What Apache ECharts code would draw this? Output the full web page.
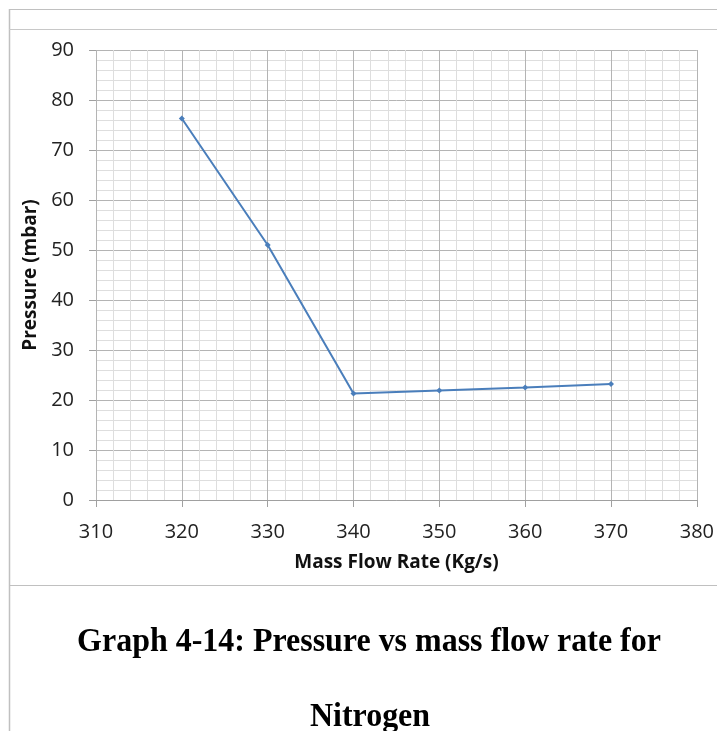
<!DOCTYPE html>
<html>
<head>
<meta charset="utf-8">
<script src="https://cdn.jsdelivr.net/npm/echarts@6/dist/echarts.min.js"></script>
<style>
html,body{margin:0;padding:0;background:#fff;}
#chart{width:717px;height:731px;}
</style>
</head>
<body>
<div id="chart"></div>
<script>
const massFlow = [320, 330, 340, 350, 360, 370];
const pressure = [76.3, 51.0, 21.3, 21.9, 22.5, 23.2];
const xTicks = [310, 320, 330, 340, 350, 360, 370, 380];
const yTicks = [0, 10, 20, 30, 40, 50, 60, 70, 80, 90];
const titleLines = ['Graph 4-14: Pressure vs mass flow rate for', 'Nitrogen'];

const chart = echarts.init(document.getElementById('chart'), null, {renderer: 'canvas'});
const sans = 'Open Sans';

const option = {
  animation: false,
  backgroundColor: '#ffffff',
  grid: {left: 96, right: 19, top: 50, bottom: 231, containLabel: false},
  xAxis: {
    type: 'value',
    min: xTicks[0], max: xTicks[xTicks.length - 1], interval: 10,
    name: 'Mass Flow Rate (Kg/s)',
    nameLocation: 'middle', nameGap: 53,
    nameTextStyle: {fontFamily: sans, fontWeight: 'bold', fontSize: 19, color: '#111'},
    axisLine: {show: true, lineStyle: {color: '#a0a0a0', width: 1}},
    axisTick: {show: true, length: 7, lineStyle: {color: '#a0a0a0'}},
    axisLabel: {fontFamily: sans, fontSize: 20, color: '#222', margin: 22},
    splitLine: {show: true, lineStyle: {color: '#b4b4b4', width: 1}},
    minorTick: {show: false, splitNumber: 5},
    minorSplitLine: {show: true, lineStyle: {color: '#dedede', width: 1}}
  },
  yAxis: {
    type: 'value',
    min: yTicks[0], max: yTicks[yTicks.length - 1], interval: 10,
    name: 'Pressure (mbar)',
    nameLocation: 'middle', nameGap: 45, nameRotate: 90,
    nameTextStyle: {fontFamily: sans, fontWeight: 'bold', fontSize: 19, color: '#111'},
    axisLine: {show: false},
    axisTick: {show: true, length: 7, lineStyle: {color: '#a0a0a0'}},
    axisLabel: {fontFamily: sans, fontSize: 20, color: '#222', margin: 22},
    splitLine: {show: true, lineStyle: {color: '#b4b4b4', width: 1}},
    minorTick: {show: false, splitNumber: 5},
    minorSplitLine: {show: true, lineStyle: {color: '#dedede', width: 1}}
  },
  series: [{
    type: 'line',
    data: massFlow.map((x, i) => [x, pressure[i]]),
    symbol: 'diamond', symbolSize: 6,
    lineStyle: {color: '#4a7ebb', width: 2},
    itemStyle: {color: '#4a7ebb'}
  }],
  graphic: [
    {type: 'line', shape: {x1: 9, y1: 9.5, x2: 717, y2: 9.5}, style: {stroke: '#c0c0c0', lineWidth: 1}, silent: true},
    {type: 'line', shape: {x1: 9.5, y1: 9, x2: 9.5, y2: 731}, style: {stroke: '#c0c0c0', lineWidth: 1.5}, silent: true},
    {type: 'line', shape: {x1: 9, y1: 29.5, x2: 717, y2: 29.5}, style: {stroke: '#c8c8c8', lineWidth: 1}, silent: true},
    {type: 'line', shape: {x1: 9, y1: 585.5, x2: 717, y2: 585.5}, style: {stroke: '#c0c0c0', lineWidth: 1}, silent: true},
    {type: 'text', x: 369, y: 642, scaleX: 0.94,
     style: {text: titleLines[0], font: 'bold 34px "Liberation Serif"', fill: '#000', textAlign: 'center', textVerticalAlign: 'middle'}},
    {type: 'text', x: 370, y: 717, scaleX: 0.94,
     style: {text: titleLines[1], font: 'bold 34px "Liberation Serif"', fill: '#000', textAlign: 'center', textVerticalAlign: 'middle'}}
  ]
};
chart.setOption(option);
</script>
</body>
</html>
